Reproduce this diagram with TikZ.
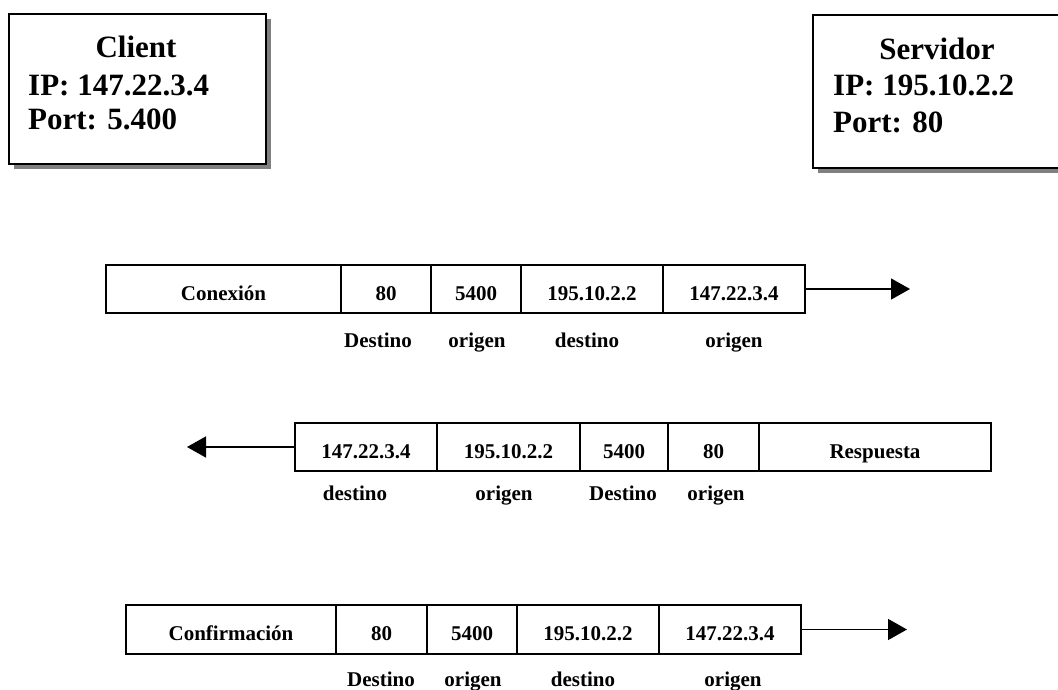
\documentclass[tikz,border=0pt]{standalone}
\usepackage{fontspec}
\setmainfont{Liberation Serif}
\usetikzlibrary{arrows.meta,shadows}
\newcommand{\hostfont}{\fontsize{31}{36}\selectfont\bfseries}
\newcommand{\cellfont}{\fontsize{21}{25}\selectfont\bfseries}
\tikzset{
  hostbox/.style={draw, line width=2pt, fill=white, inner sep=0pt, anchor=north west,
    drop shadow={shadow xshift=5pt, shadow yshift=-5pt, fill=black!50, opacity=1}},
  hosttext/.style={inner sep=0pt, font=\hostfont},
  cell/.style={draw, line width=1.4pt, inner sep=0pt, text height=22pt, text depth=0pt,
    font=\cellfont},
  fieldlabel/.style={inner sep=0pt, anchor=base, font=\cellfont},
  flow/.style={line width=1.5pt, -{Triangle[length=19pt,width=21pt]}}
}
\begin{document}
\begin{tikzpicture}[x=1pt,y=-1pt]
\useasboundingbox (0,0) rectangle (1058,689);

% hosts
\node[hostbox, minimum width=257, minimum height=150] (client) at (8,13) {};
\node[hosttext, anchor=base] (clientname) at (136,57) {Client};
\node[hosttext, anchor=base west] (clientip) at (28,95) {IP: 147.22.3.4};
\node[hosttext, anchor=base west] (clientport) at (28,129) {Port: 5.400};

\node[hostbox, minimum width=250, minimum height=153] (server) at (812,14) {};
\node[hosttext, anchor=base] (servername) at (937,59) {Servidor};
\node[hosttext, anchor=base west] (serverip) at (833,95) {IP: 195.10.2.2};
\node[hosttext, anchor=base west] (serverport) at (833,132) {Port: 80};

% connection request
\begin{scope}[every node/.append style={minimum height=48}]
\node[cell, minimum width=235] (ca) at (223.5,289) {Conexión};
\node[cell, minimum width=90]  (cb) at (386,289) {80};
\node[cell, minimum width=90]  (cc) at (476,289) {5400};
\node[cell, minimum width=142] (cd) at (592,289) {195.10.2.2};
\node[cell, minimum width=142] (ce) at (734,289) {147.22.3.4};
\end{scope}
\coordinate (cend) at (910,289);
\draw[flow] (ce.east) -- (cend);
\node[fieldlabel] (cl1) at (378,347) {Destino};
\node[fieldlabel] (cl2) at (477,347) {origen};
\node[fieldlabel] (cl3) at (587,347) {destino};
\node[fieldlabel] (cl4) at (734,347) {origen};

% reply
\begin{scope}[every node/.append style={minimum height=48}]
\node[cell, minimum width=142] (ra) at (366,447) {147.22.3.4};
\node[cell, minimum width=143] (rb) at (508.5,447) {195.10.2.2};
\node[cell, minimum width=88]  (rc) at (624,447) {5400};
\node[cell, minimum width=91]  (rd) at (713.5,447) {80};
\node[cell, minimum width=232] (re) at (875,447) {Respuesta};
\end{scope}
\coordinate (rend) at (187,447);
\draw[flow] (ra.west) -- (rend);
\node[fieldlabel] (rl1) at (355,500) {destino};
\node[fieldlabel] (rl2) at (504,500) {origen};
\node[fieldlabel] (rl3) at (623,500) {Destino};
\node[fieldlabel] (rl4) at (716,500) {origen};

% confirmation
\begin{scope}[every node/.append style={minimum height=49}]
\node[cell, minimum width=210] (fa) at (231,629.5) {Confirmación};
\node[cell, minimum width=91]  (fb) at (381.5,629.5) {80};
\node[cell, minimum width=90]  (fc) at (472,629.5) {5400};
\node[cell, minimum width=142] (fd) at (588,629.5) {195.10.2.2};
\node[cell, minimum width=142] (fe) at (730,629.5) {147.22.3.4};
\end{scope}
\coordinate (fend) at (907,629.5);
\draw[flow] (fe.east) -- (fend);
\node[fieldlabel] (fl1) at (381,686) {Destino};
\node[fieldlabel] (fl2) at (473,686) {origen};
\node[fieldlabel] (fl3) at (583,686) {destino};
\node[fieldlabel] (fl4) at (733,686) {origen};
\end{tikzpicture}
\end{document}
